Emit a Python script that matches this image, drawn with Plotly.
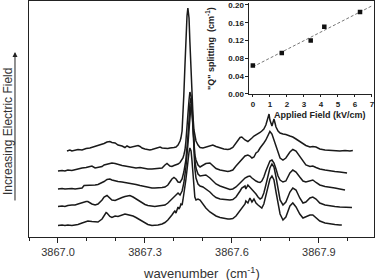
import plotly.graph_objects as go

# ---------------- Spectra (wavenumber, cm^-1) ----------------
# Each trace: wavenumber list and intensity (arb. units, relative to own baseline)
wn1 = [3867.031, 3867.041, 3867.048, 3867.059, 3867.069, 3867.083, 3867.097, 3867.110, 3867.128, 3867.145,
       3867.159, 3867.169, 3867.179, 3867.186, 3867.197, 3867.207, 3867.221, 3867.231, 3867.238, 3867.248,
       3867.259, 3867.269, 3867.276, 3867.283, 3867.290, 3867.300, 3867.310, 3867.317, 3867.324, 3867.334,
       3867.345, 3867.352, 3867.359, 3867.369, 3867.379, 3867.386, 3867.393, 3867.400, 3867.407, 3867.414,
       3867.421, 3867.424, 3867.428, 3867.431, 3867.434, 3867.438, 3867.441, 3867.445, 3867.448, 3867.452,
       3867.455, 3867.459, 3867.462, 3867.466, 3867.469, 3867.472, 3867.476, 3867.483, 3867.490, 3867.500,
       3867.510, 3867.524, 3867.534, 3867.545, 3867.559, 3867.572, 3867.586, 3867.593, 3867.603, 3867.614,
       3867.628, 3867.634, 3867.645, 3867.655, 3867.662, 3867.669, 3867.676, 3867.683, 3867.690, 3867.697,
       3867.703, 3867.710, 3867.717, 3867.724, 3867.728, 3867.731, 3867.738, 3867.745, 3867.752, 3867.759,
       3867.766, 3867.776, 3867.786, 3867.800, 3867.810, 3867.821, 3867.834, 3867.845, 3867.855, 3867.869,
       3867.879, 3867.890, 3867.903, 3867.921, 3867.938, 3867.955, 3867.972, 3867.990, 3868.007, 3868.017]
int1 = [-1, 0, -1, 0, 0.5, 0, 1.5, 2, 3.5, 5,
        6.5, 8, 8.5, 7.5, 7, 5, 4, 2.5, 4, 2.5,
        3.5, 4.5, 4.5, 3.5, 2, 1, 0, 0, 0.5, 1.5,
        3, 3, 2, 1.5, 1.5, 2, 2, 2.5, 3, 5,
        9, 12, 19, 32, 55, 85, 112, 134, 142, 132,
        108, 78, 50, 32, 20, 13, 9, 5, 2.5, 2,
        3, 4.5, 5, 3.5, 2, 1, 0.5, 1, 2.5, 7,
        12.5, 13, 10, 8.5, 10, 12, 14, 15, 16.5, 17.5,
        19, 21, 25, 32, 36, 30, 24, 31, 23, 19,
        17, 16, 15.5, 14, 13, 11, 8.5, 6.5, 4.5, 3,
        3.5, 3, 1, 0, -0.5, -0.5, -1, -0.5, -1, -0.5]

wn2 = [3867.000, 3867.014, 3867.024, 3867.034, 3867.048, 3867.059, 3867.069, 3867.083, 3867.097, 3867.110,
       3867.117, 3867.128, 3867.138, 3867.152, 3867.159, 3867.169, 3867.179, 3867.186, 3867.197, 3867.207,
       3867.221, 3867.231, 3867.248, 3867.259, 3867.269, 3867.283, 3867.300, 3867.310, 3867.324, 3867.334,
       3867.345, 3867.359, 3867.369, 3867.376, 3867.386, 3867.393, 3867.400, 3867.407, 3867.414, 3867.421,
       3867.428, 3867.431, 3867.434, 3867.438, 3867.441, 3867.445, 3867.448, 3867.452, 3867.455, 3867.459,
       3867.462, 3867.466, 3867.469, 3867.472, 3867.476, 3867.483, 3867.490, 3867.500, 3867.510, 3867.524,
       3867.534, 3867.545, 3867.559, 3867.572, 3867.586, 3867.593, 3867.603, 3867.614, 3867.628, 3867.634,
       3867.645, 3867.655, 3867.662, 3867.669, 3867.676, 3867.683, 3867.690, 3867.697, 3867.703, 3867.710,
       3867.717, 3867.724, 3867.731, 3867.738, 3867.745, 3867.752, 3867.759, 3867.766, 3867.776, 3867.786,
       3867.800, 3867.810, 3867.821, 3867.834, 3867.845, 3867.855, 3867.869, 3867.879, 3867.890, 3867.903,
       3867.921, 3867.938, 3867.955, 3867.972, 3867.990, 3867.997]
int2 = [-1, -0.5, -1, 0, -0.5, 0.5, 1, 2, 2.5, 3.5,
        4, 2, 2.5, 3.5, 5, 5.5, 6.5, 7, 6.5, 5.5,
        4.5, 4, 3, 3, 2, 2.5, 1.5, 1, 1, 1.5,
        1.5, 2, 5, 6.5, 4, 3.5, 4.5, 5, 6, 7.5,
        10, 12, 15, 20, 28, 40, 55, 70, 78, 74,
        60, 42, 25, 15, 10, 5, 3, 5, 6.5, 7,
        4, 1.5, 0, -1, -1.5, -1, 0, 4, 9, 11,
        14, 15, 14, 12, 13, 17, 18.5, 22, 24, 27,
        30, 35, 38.5, 36, 30, 22, 16, 12, 10, 12,
        18, 20.5, 19, 14, 9, 5, 3.5, 4, 2.5, 1,
        0, -1, -1.5, -2, -2.5, -3]

wn3 = [3867.000, 3867.014, 3867.024, 3867.034, 3867.048, 3867.059, 3867.069, 3867.083, 3867.090, 3867.103,
       3867.117, 3867.128, 3867.138, 3867.152, 3867.159, 3867.169, 3867.179, 3867.186, 3867.197, 3867.207,
       3867.221, 3867.231, 3867.248, 3867.259, 3867.269, 3867.283, 3867.300, 3867.310, 3867.324, 3867.334,
       3867.345, 3867.359, 3867.369, 3867.379, 3867.386, 3867.393, 3867.400, 3867.407, 3867.414, 3867.421,
       3867.428, 3867.434, 3867.441, 3867.445, 3867.448, 3867.452, 3867.455, 3867.459, 3867.462, 3867.466,
       3867.469, 3867.472, 3867.476, 3867.483, 3867.490, 3867.500, 3867.510, 3867.524, 3867.534, 3867.545,
       3867.559, 3867.572, 3867.586, 3867.593, 3867.603, 3867.614, 3867.628, 3867.634, 3867.645, 3867.655,
       3867.662, 3867.669, 3867.676, 3867.683, 3867.690, 3867.697, 3867.703, 3867.710, 3867.717, 3867.724,
       3867.731, 3867.738, 3867.745, 3867.752, 3867.759, 3867.766, 3867.776, 3867.786, 3867.800, 3867.810,
       3867.821, 3867.834, 3867.845, 3867.855, 3867.869, 3867.879, 3867.890, 3867.903, 3867.921, 3867.938,
       3867.955, 3867.972, 3867.990]
int3 = [-1, -0.5, -1, -0.5, -0.5, -1, -0.5, 0, 2.5, 2.5,
        3, 3, 3.5, 5, 6.5, 8.5, 9, 8, 7, 6.5,
        6, 5.5, 5, 4.5, 3.5, 2.5, 1.5, 0.5, 0, 0,
        0, 0.5, 1, 3, 6, 9, 10.5, 9, 6, 5.5,
        9, 16, 28, 38, 51, 68, 84, 90, 84, 63,
        43, 28, 20, 14, 12, 12.5, 13, 10, 7, 4,
        2, 0.5, -1, -1.5, -1, 1, 5, 7, 10, 11.5,
        12, 10, 8, 7, 6, 5.5, 7, 11, 17, 23,
        27, 28, 25, 19, 12, 8, 6, 7, 15, 18,
        16, 11, 7, 6, 7, 8, 5.5, 3, 1.5, 1,
        0, -1, -2]

wn4 = [3867.000, 3867.014, 3867.024, 3867.034, 3867.048, 3867.059, 3867.069, 3867.083, 3867.097, 3867.103,
       3867.117, 3867.128, 3867.138, 3867.152, 3867.159, 3867.169, 3867.179, 3867.186, 3867.197, 3867.207,
       3867.221, 3867.231, 3867.238, 3867.248, 3867.259, 3867.269, 3867.283, 3867.300, 3867.310, 3867.324,
       3867.334, 3867.345, 3867.359, 3867.369, 3867.379, 3867.386, 3867.393, 3867.400, 3867.407, 3867.414,
       3867.421, 3867.428, 3867.434, 3867.441, 3867.448, 3867.452, 3867.455, 3867.459, 3867.462, 3867.466,
       3867.469, 3867.472, 3867.476, 3867.483, 3867.490, 3867.500, 3867.510, 3867.524, 3867.534, 3867.545,
       3867.559, 3867.572, 3867.586, 3867.593, 3867.603, 3867.614, 3867.628, 3867.634, 3867.645, 3867.648,
       3867.655, 3867.662, 3867.669, 3867.676, 3867.683, 3867.690, 3867.697, 3867.703, 3867.710, 3867.717,
       3867.724, 3867.731, 3867.738, 3867.745, 3867.752, 3867.759, 3867.766, 3867.776, 3867.786, 3867.800,
       3867.810, 3867.821, 3867.834, 3867.845, 3867.855, 3867.869, 3867.879, 3867.890, 3867.903, 3867.921,
       3867.938, 3867.955, 3867.972, 3867.990, 3868.014]
int4 = [-0.5, 0, -0.5, 0.5, 1, 1, 2, 3.5, 4.5, 4.5,
        2, 1, 2, 6, 9, 10.5, 8, 6, 5.5, 7,
        8.5, 9.5, 10, 10.5, 9, 7, 4, 1.5, 0.5, 0,
        -0.5, 0, 0.5, 1, 3, 5, 7, 9, 11, 13,
        11, 15, 23, 38, 61, 78, 93, 102, 98, 81,
        58, 38, 28, 22, 20, 19, 17, 14, 11, 8.5,
        7, 6.5, 6, 6, 6.5, 9, 15, 18, 20, 17,
        21, 19, 17, 14, 12, 9, 7, 8, 13, 21,
        30, 38, 42, 39, 29, 16, 6, 1, 4, 14,
        18, 16, 8, 3, 4, 8, 9, 7, 3, 1,
        0, -0.5, -1, -1, -1.5]

wn5 = [3867.000, 3867.014, 3867.024, 3867.034, 3867.048, 3867.059, 3867.069, 3867.083, 3867.097, 3867.103,
       3867.117, 3867.128, 3867.138, 3867.152, 3867.159, 3867.166, 3867.169, 3867.179, 3867.186, 3867.197,
       3867.207, 3867.221, 3867.231, 3867.238, 3867.248, 3867.259, 3867.269, 3867.283, 3867.300, 3867.310,
       3867.324, 3867.334, 3867.345, 3867.359, 3867.369, 3867.379, 3867.386, 3867.393, 3867.400, 3867.403,
       3867.407, 3867.414, 3867.417, 3867.421, 3867.424, 3867.428, 3867.431, 3867.434, 3867.438, 3867.441,
       3867.445, 3867.448, 3867.452, 3867.455, 3867.459, 3867.462, 3867.466, 3867.469, 3867.472, 3867.476,
       3867.483, 3867.490, 3867.500, 3867.510, 3867.524, 3867.534, 3867.545, 3867.559, 3867.572, 3867.586,
       3867.593, 3867.603, 3867.614, 3867.628, 3867.634, 3867.645, 3867.648, 3867.655, 3867.662, 3867.669,
       3867.676, 3867.683, 3867.690, 3867.697, 3867.703, 3867.710, 3867.717, 3867.724, 3867.731, 3867.738,
       3867.745, 3867.752, 3867.759, 3867.766, 3867.776, 3867.786, 3867.800, 3867.810, 3867.821, 3867.834,
       3867.845, 3867.855, 3867.869, 3867.879, 3867.890, 3867.903, 3867.921, 3867.938, 3867.955, 3867.972,
       3867.979]
int5 = [-0.5, 0, -0.5, 0, -0.5, 0, 0.5, 2, 3.5, 4,
        3.5, 3, 3, 6, 10, 12.5, 12, 8.5, 7.5, 9,
        8.5, 10, 11, 10.5, 10, 9, 7.5, 5, 2, 0.5,
        -0.5, -0.5, 0, 1, 2.5, 5, 7, 10, 13, 14,
        12, 18, 16, 18, 21, 20, 25, 30, 37, 45,
        55, 65, 73, 77, 74, 65, 48, 35, 28, 25,
        26, 25, 21, 17, 13, 11, 9, 7.5, 6.5, 6,
        6, 6.5, 9, 14, 17, 21, 24, 22, 27, 23,
        26, 22, 20, 18, 17, 21, 29, 39, 46, 49,
        45, 33, 20, 11, 5, 8, 19, 22, 18, 11,
        7, 8, 10, 10, 7, 4, 2, 1, 0.5, 0,
        0]

spectra_wn = [wn1, wn2, wn3, wn4, wn5]
spectra_int = [int1, int2, int3, int4, int5]
spectra_offset = [87, 67, 49, 31, 12]   # vertical stacking offsets

# ---------------- Inset data ----------------
field_kv = [0.0, 1.7, 3.4, 4.2, 6.3]
q_split = [0.064, 0.092, 0.120, 0.151, 0.184]
fit_field = [0.0, 7.0]
fit_split = [0.061, 0.198]

main_ticks = [3867.0, 3867.3, 3867.6, 3867.9]
main_ticktext = ["3867.0", "3867.3", "3867.6", "3867.9"]
inset_yticks = [0.0, 0.04, 0.08, 0.12, 0.16, 0.20]
inset_yticktext = ["0.00", "0.04", "0.08", "0.12", "0.16", "0.20"]
inset_xticks = [0, 1, 2, 3, 4, 5, 6, 7]

INK = "#222222"
FONT = "Liberation Sans, Arial, sans-serif"

fig = go.Figure()
for wn, it, off in zip(spectra_wn, spectra_int, spectra_offset):
    fig.add_trace(go.Scatter(x=wn, y=[v + off for v in it], mode="lines",
                             line=dict(color="#1a1a1a", width=1.5), xaxis="x", yaxis="y",
                             hoverinfo="skip"))

fig.add_trace(go.Scatter(x=fit_field, y=fit_split, mode="lines",
                         line=dict(color="#777777", width=1, dash="3px,2px"),
                         xaxis="x2", yaxis="y2"))
fig.add_trace(go.Scatter(x=field_kv, y=q_split, mode="markers",
                         marker=dict(symbol="square", size=4.5, color="#111111"),
                         xaxis="x2", yaxis="y2"))

fig.update_layout(
    width=378, height=280,
    margin=dict(l=29, r=4, t=1, b=43, autoexpand=False),
    paper_bgcolor="white", plot_bgcolor="white",
    showlegend=False,
    font=dict(family=FONT, color=INK),
    xaxis=dict(domain=[0, 1], range=[3866.9, 3868.09], showline=True, linecolor=INK, linewidth=1,
               mirror=True, ticks="outside", ticklen=5, tickwidth=1, tickcolor=INK,
               tickmode="array", tickvals=main_ticks, ticktext=main_ticktext,
               tickfont=dict(size=11, color="#333333"), automargin=False,
               minor=dict(tick0=3867.0, dtick=0.1, ticks="outside", ticklen=3, tickcolor=INK),
               showgrid=False, zeroline=False),
    yaxis=dict(domain=[0, 1], range=[0, 236], showline=True, linecolor=INK, linewidth=1,
               mirror=True, showticklabels=False, ticks="", showgrid=False, zeroline=False,
               automargin=False),
    xaxis2=dict(domain=[0.639, 0.994], anchor="y2", range=[-0.2, 7.0], showline=True,
                linecolor=INK, linewidth=1, ticks="outside", ticklen=2, tickcolor=INK,
                tickmode="array", tickvals=inset_xticks, automargin=False,
                tickfont=dict(size=8, weight="bold"), showgrid=False, zeroline=False),
    yaxis2=dict(domain=[0.606, 0.9925], anchor="x2", range=[0, 0.205], showline=True,
                linecolor=INK, linewidth=1, ticks="outside", ticklen=3, tickcolor=INK,
                tickmode="array", tickvals=inset_yticks, ticktext=inset_yticktext,
                automargin=False,
                tickfont=dict(size=8, weight="bold"), showgrid=False, zeroline=False),
)

# axis titles as annotations (paper coordinates)
fig.add_annotation(text="wavenumber  (cm<sup>-1</sup>)", xref="paper", yref="paper",
                   x=0.501, y=-0.1525, xanchor="center", yanchor="middle", showarrow=False,
                   font=dict(size=13, color="#333333"))
fig.add_annotation(text="Applied Field (kV/cm)", xref="paper", yref="paper",
                   x=0.843, y=0.515, xanchor="center", yanchor="middle", showarrow=False,
                   font=dict(size=9, weight="bold"))
fig.add_annotation(text="\"Q\" splitting  (cm<sup>-1</sup>)", textangle=-90, xref="paper", yref="paper",
                   x=0.5246, y=0.801, xanchor="center", yanchor="middle", showarrow=False,
                   font=dict(size=9, weight="bold"))
fig.add_annotation(text="Increasing Electric Field", textangle=-90, xref="paper", yref="paper",
                   x=-0.061, y=0.449, xanchor="center", yanchor="middle", showarrow=False,
                   font=dict(size=12, color="#333333"))
fig.add_annotation(text="", xref="paper", yref="paper", x=-0.0406, y=0.784,
                   axref="pixel", ayref="pixel", ax=0, ay=150,
                   showarrow=True, arrowhead=2, arrowsize=1, arrowwidth=1, arrowcolor=INK)

fig.write_html("out.html", config={"displayModeBar": False},
               post_script="document.body.style.margin='0';document.body.style.padding='0';")
